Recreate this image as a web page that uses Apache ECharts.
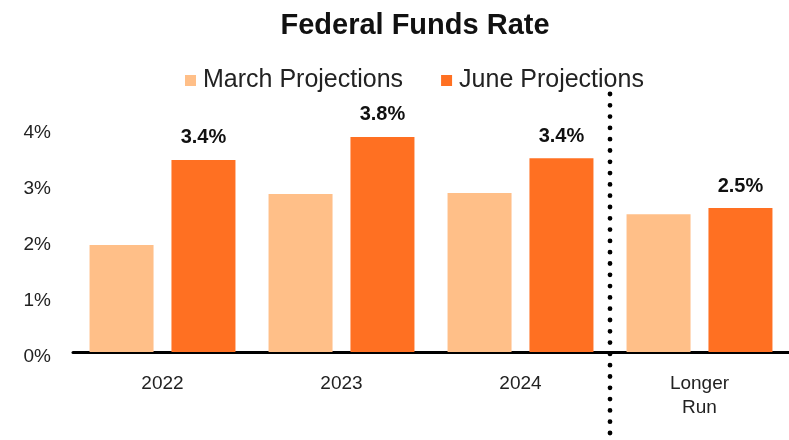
<!DOCTYPE html>
<html><head><meta charset="utf-8">
<script src="https://cdn.jsdelivr.net/npm/echarts@6/dist/echarts.min.js"></script>
<style>html,body{margin:0;padding:0;background:#fff}#c{width:789px;height:440px}</style>
</head><body><div id="c"></div>
<script>
const categories = ['2022', '2023', '2024', 'Longer\nRun'];
const marchValues = [1.91, 2.82, 2.84, 2.46];
const juneValues = [3.43, 3.84, 3.46, 2.57];
const juneLabels = ['3.4%', '3.8%', '3.4%', '2.5%'];
const yTicks = [0, 1, 2, 3, 4];

const FONT = 'Liberation Sans, Arial, sans-serif';
const chart = echarts.init(document.getElementById('c'), null, {renderer: 'canvas'});
chart.setOption({
  animation: false,
  backgroundColor: '#fff',
  title: {
    text: 'Federal Funds Rate', left: 410, top: 6, textAlign: 'center',
    textStyle: {fontFamily: FONT, fontSize: 29, fontWeight: 'bold', color: '#111'}
  },
  legend: {
    left: 180, top: 63, itemWidth: 11, itemHeight: 11, itemGap: 38,
    icon: 'rect',
    textStyle: {fontFamily: FONT, fontSize: 25, color: '#222', padding: [0,0,0,2]},
    data: ['March Projections', 'June Projections']
  },
  grid: {left: 73, right: -1, top: 128, bottom: 88, containLabel: false},
  xAxis: {
    type: 'category', data: categories,
    axisLine: {lineStyle: {color: '#000', width: 3}},
    axisTick: {show: false},
    axisLabel: {fontFamily: FONT, fontSize: 19, color: '#222', margin: 20, lineHeight: 24}
  },
  yAxis: {
    type: 'value', min: yTicks[0], max: yTicks[yTicks.length-1], interval: 1,
    splitLine: {show: false}, axisLine: {show: false}, axisTick: {show: false},
    axisLabel: {margin: 22, formatter: v => '{v|' + v + '%}',
      rich: {v: {fontFamily: FONT, fontSize: 19, color: '#222', padding: [9,0,0,0]}}}
  },
  series: [
    {name: 'March Projections', type: 'bar', data: marchValues, barWidth: 64, barGap: '28%',
     itemStyle: {color: '#FFBF88'}},
    {name: 'June Projections', type: 'bar', data: juneValues, barWidth: 64,
     itemStyle: {color: '#FF7022'},
     label: {show: true, position: 'top', distance: 12, fontFamily: FONT, fontSize: 20,
       fontWeight: 'bold', color: '#111', formatter: p => juneLabels[p.dataIndex]}}
  ]
});
const x2 = chart.convertToPixel({xAxisIndex: 0}, 2);
const x3 = chart.convertToPixel({xAxisIndex: 0}, 3);
const xd = (x2 + x3) / 2;
chart.setOption({
  graphic: [{
    type: 'line', z: 100,
    shape: {x1: xd, y1: 94, x2: xd, y2: 440},
    style: {stroke: '#000', lineWidth: 4.8, lineCap: 'round', lineDash: [0, 11.3]}
  }]
});
</script></body></html>
